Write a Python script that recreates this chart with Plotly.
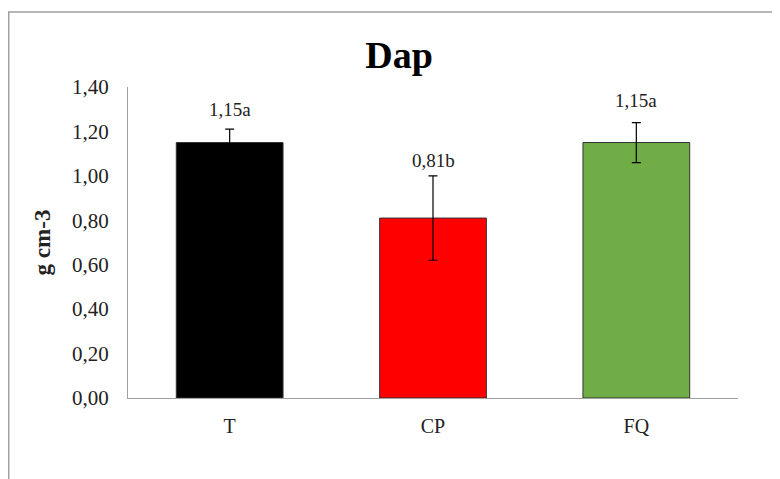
import plotly.graph_objects as go

categories = ["T", "CP", "FQ"]
values = [1.15, 0.81, 1.15]
errors = [0.06, 0.19, 0.09]
bar_colors = ["#000000", "#ff0000", "#70ad47"]
value_labels = ["1,15a", "0,81b", "1,15a"]
label_y = [1.30, 1.07, 1.337]
y_ticks = [0, 0.2, 0.4, 0.6, 0.8, 1.0, 1.2, 1.4]
y_tick_text = ["0,00", "0,20", "0,40", "0,60", "0,80", "1,00", "1,20", "1,40"]

FONT = "Liberation Serif"

fig = go.Figure()
fig.add_trace(go.Bar(
    x=categories, y=values,
    marker=dict(color=bar_colors, line=dict(color="#333333", width=1)),
    width=0.525,
    error_y=dict(type="data", array=errors, visible=True, color="#000000",
                 thickness=1.2, width=4.5),
    showlegend=False, hoverinfo="skip",
))

for c, t, ly in zip(categories, value_labels, label_y):
    fig.add_annotation(x=c, y=ly, text=t, showarrow=False, xref="x", yref="y",
                       font=dict(family=FONT, size=19, color="#222222"))

fig.add_shape(type="rect", xref="paper", yref="paper",
              x0=-0.1955, x1=1.1, y0=-0.35, y1=1.241,
              line=dict(color="#a0a0a0", width=1.5), fillcolor="rgba(0,0,0,0)",
              layer="below")

fig.update_layout(
    width=780, height=479,
    margin=dict(l=120, r=50, t=79, b=89, autoexpand=False),
    paper_bgcolor="white", plot_bgcolor="white",
    title=dict(text="<b>Dap</b>", x=(391 / 780), xanchor="center", y=1 - 47 / 479,
               yanchor="middle", font=dict(family=FONT, size=38, color="#000000")),
    font=dict(family=FONT, color="#222222"),
    bargap=0.475,
)
fig.update_yaxes(range=[0, 1.4], tickvals=y_ticks, ticktext=y_tick_text,
                 showgrid=False, zeroline=False, showline=True, linecolor="#a0a0a0",
                 linewidth=1.2, ticks="", ticklen=0, automargin=False,
                 ticklabelstandoff=14,
                 tickfont=dict(size=21, family=FONT),
                 title=dict(text="<b>g cm-3</b>", font=dict(size=23, family=FONT, color="#222222"),
                            standoff=14))
fig.update_xaxes(showgrid=False, showline=True, linecolor="#a0a0a0", linewidth=1.2,
                 ticks="", automargin=False, ticklabelstandoff=10,
                 tickfont=dict(size=20, family=FONT))

fig.write_html("out.html")
